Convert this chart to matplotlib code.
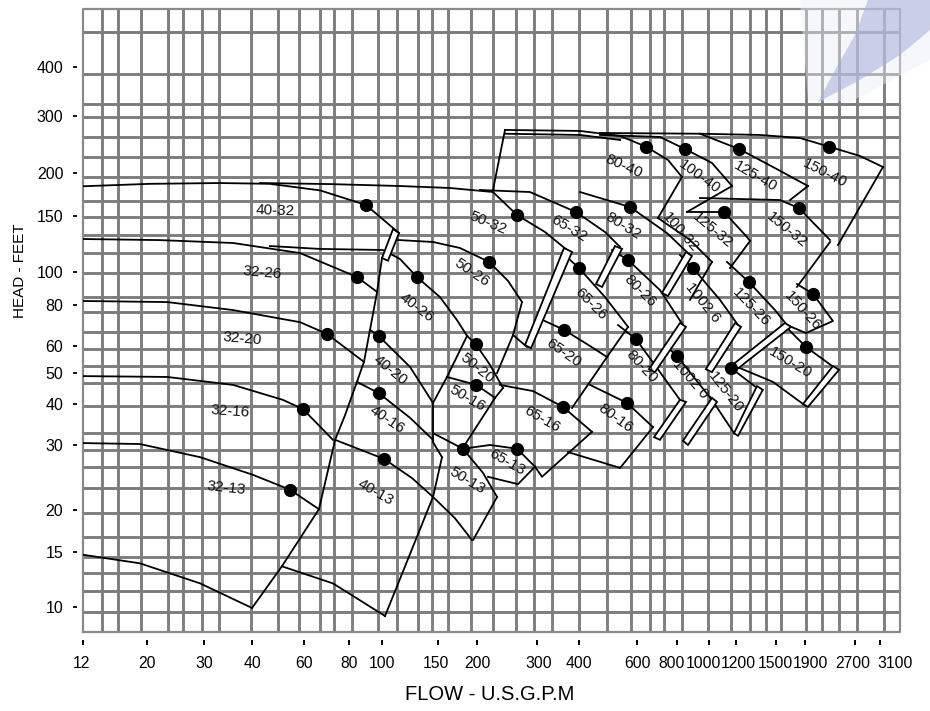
import numpy as np
import matplotlib
matplotlib.use("Agg")
import matplotlib.pyplot as plt
from matplotlib.patches import Polygon
from matplotlib.transforms import ScaledTranslation

plt.rcParams['font.family'] = ['Liberation Sans', 'DejaVu Sans']

# ---------------- axis tick values ----------------
X_TICKS = [12, 20, 30, 40, 60, 80, 100, 150, 200, 300, 400, 600, 800, 1000,
           1200, 1500, 1900, 2700, 3100]
Y_TICKS = [10, 15, 20, 30, 40, 50, 60, 80, 100, 150, 200, 300, 400]

# layout of the (irregular) printed scales: axes-fraction of each tick
X_TICK_FRAC = [0.0, .0783, .1481, .2069, .2705, .3256, .366, .4345, .4823, .5557,
               .6071, .6781, .727, .7662, .7993, .8482, .8837, .9449, .9755]
Y_TICK_FRAC = [.0401, .1284, .1958, .3002, .366, .4157, .4591, .5249, .5778, .6677,
               .7368, .8283, .9069]
# small horizontal nudges (pixels) of the printed flow labels
X_LABEL_NUDGE = [-2, 0, 0, 0, 0, 0, 0, -2, 0, 2, 0, 0, -5, -6, 2, -1, 5, -2, 15]

# background grid (axes fractions)
GRID_X = [.0233, .0428, .071, .104, .1224, .1457, .1665, .2056, .2387, .2644, .2901,
          .3072, .3293, .3611, .3843, .41, .4272, .4468, .4749, .5018, .53, .552, .574,
          .6071, .6414, .6707, .694, .7111, .7332, .765, .7931, .8164, .836, .8543,
          .885, .9045, .9253, .9474, .9804]
GRID_Y = [.9631, .8957, .8475, .8266, .7945, .7624, .7303, .6918, .6661, .6372,
          .6083, .5762, .5377, .5136, .4815, .4543, .427, .3997, .3628, .3194, .2921,
          .2648, .2311, .191, .1525, .1204, .0947, .0658, .0321]

# ---------------- performance-field lines (flow USGPM, head ft) ----------------
LINES_32 = [
    [(12, 183), (20.4, 186), (33, 187), (46, 186), (66.5, 178), (89.7, 161.5), (113.1, 132.6)],
    [(12, 127), (21.9, 126), (35.7, 123.4), (58.2, 114.7), (84.4, 96.7), (96.7, 87.4)],
    [(12, 82.2), (23.1, 81.6), (35.7, 77.2), (58.2, 70.9), (69.5, 65.3), (88.5, 53.9)],
    [(12, 48.9), (23.1, 48.6), (35.7, 45.9), (50.9, 41.2), (59.5, 38.6), (72.2, 31.1)],
    [(12, 30.4), (18.9, 30.2), (29.2, 27.8), (40.3, 24.9), (53.8, 22.7), (66, 20.1)],
    [(12, 14.7), (18.9, 13.8), (29.2, 11.9), (40, 9.93)],
    [(100, 110.7), (96.7, 87.4), (92.2, 67.2), (88.5, 53.9), (84.4, 46.9), (78, 37),
     (73.2, 31.1), (66, 20.1), (50.5, 13.5), (40, 9.93)],
]
LINES_40 = [
    [(46, 120.7), (66.5, 118.2), (100.7, 117.3), (113.9, 109.9), (128.8, 96.7),
     (152.2, 84.4), (172.6, 71.9), (185.8, 64.4)],
    [(185.8, 64.4), (160.3, 48.6), (144.7, 40.3)],
    [(92.2, 67.2), (97.7, 64.4), (122.5, 52.1), (144.7, 40.3)],
    [(84.4, 46.9), (97.7, 43.3), (122.5, 36.3), (144.7, 31.1)],
    [(144.7, 40.3), (144.7, 30.6), (154.5, 27.8)],
    [(73.2, 31.1), (101.5, 27.5), (124.3, 24.4), (144.7, 21.7), (170, 18.9), (192.5, 16.3)],
    [(154.5, 27.8), (144.7, 21.7), (102.2, 9.36)],
    [(50.5, 13.5), (72.2, 11.9), (102.2, 9.36)],
]
LINES_50 = [
    [(42.6, 187), (70.8, 185.7), (113.9, 183.3), (163.9, 180.9), (222.8, 176.1),
     (262, 151), (316.9, 133.6), (368.4, 117.3)],
    [(112.3, 126.1), (144.7, 124.3), (176.4, 119), (216.9, 107.6), (246.6, 94.2), (271.1, 81.6)],
    [(271.1, 81.6), (255.1, 64.8), (229, 50)],
    [(255.1, 64.8), (280.4, 59.6)],
    [(185.8, 64.4), (198, 60.8), (218.4, 52.8), (238.4, 44.9)],
    [(160.3, 48.6), (199, 45.9), (225.9, 41.8)],
    [(238.4, 44.9), (225.9, 41.8), (180.3, 29.5)],
    [(144.7, 32.6), (180.3, 29.3), (208.3, 25.2), (229, 21.7)],
    [(229, 21.7), (194.4, 16.3)],
]
LINES_65 = [
    [(204.1, 178.5), (286, 176.1), (391.9, 154.1), (479.7, 133.6), (533.2, 119.9)],
    [(370.9, 110.7), (400, 102.9), (479.7, 84.4), (563.7, 68.6)],
    [(563.7, 68.6), (486.4, 55.7), (381.3, 38.9)],
    [(312.6, 71.9), (360.9, 67.2), (432, 60), (486.4, 55.7)],
    [(233.6, 45.9), (292, 43.9), (358.3, 39.2), (438, 32.9)],
    [(438, 32.9), (310.4, 24.6), (296, 26.2)],
    [(180.3, 29.3), (218.4, 30), (262, 29.3), (296, 26.2)],
    [(296, 26.2), (263.8, 23.5), (215.4, 24.6)],
]
LINES_80 = [
    [(241.6, 271.6), (402.8, 269.7), (533.2, 260.2), (640.1, 241.2), (749.9, 219.4), (828.4, 194.7)],
    [(241.6, 264.4), (402.8, 262.1), (533.2, 252.9)],
    [(222.8, 178.5), (241.6, 271.6)],
    [(828.4, 194.7), (697.9, 147.9)],
    [(402.8, 176.1), (571.7, 159.3), (744.5, 132.6), (875.9, 113.1)],
    [(503.7, 117.3), (563.7, 109.1), (707.9, 88.5), (834.2, 69.5)],
    [(525.4, 69.5), (595.7, 63), (707.9, 50.3), (816.9, 41.2)],
    [(432, 45.9), (559.8, 40.3), (673.2, 34.0)],
    [(673.2, 34.0), (533.2, 26.0)],
    [(370.9, 28.7), (533.2, 26.0)],
]
LINES_100 = [
    [(463.2, 262.1), (707.9, 258.4), (845.9, 237.2), (1020.5, 214.7), (1168, 183.3)],
    [(1168, 183.3), (857.8, 154.1)],
    [(697.9, 147.9), (875.9, 126.1), (1020.5, 107.6)],
    [(1020.5, 107.6), (875.9, 82.8)],
    [(816.9, 113.1), (894.4, 102.9), (1077.2, 82.8), (1213.4, 69.5)],
    [(733.8, 60.4), (800, 56.1), (939, 45.9), (1020.5, 41.2)],
]
LINES_125 = [
    [(463.2, 265.8), (939, 264.4), (1220, 237.2), (1475, 208.7), (1940.5, 183.3)],
    [(1940.5, 183.3), (1681.3, 166.9)],
    [(857.8, 154.1), (1106.6, 154.1), (1276, 128.8), (1297.5, 125.2)],
    [(1297.5, 125.2), (1152.3, 102.9)],
    [(1129.3, 107.6), (1290, 93.4), (1491.6, 77.2), (1640.8, 69.5)],
    [(1160.2, 51.7), (1349, 44.9)],
    [(1184, 32.6), (1006.8, 42.1)],
]
LINES_150 = [
    [(939, 264.4), (1371.9, 262.1), (1824, 256.5), (2249, 241.2), (2775.6, 225.7), (3151.8, 208.7)],
    [(3151.8, 208.7), (2396, 121.6)],
    [(939, 169.2), (1549.7, 166.9), (1809, 158.2), (2265, 126.1)],
    [(2265, 124.3), (1780, 90.4)],
    [(1780, 92.2), (2010, 86.2), (2313, 71.5), (1913.4, 65.7), (1640.8, 69.5)],
    [(1640.8, 68.1), (1913.4, 59.6), (2346, 51.7)],
    [(1900, 39.6), (1475, 46.9), (1191.9, 52.4)],
]
# narrow separating strips between neighbouring fields (closed outlines)
STRIPS = [
    [(108.3, 136.5), (113.1, 132.6), (104.4, 108.5), (100, 110.7)],
    [(360.9, 119), (381.3, 115.6), (288.1, 59.1), (276.6, 60.4)],
    [(514.5, 120.7), (540.5, 118.2), (469.8, 90.4), (450.5, 92.2)],
    [(851.8, 115.6), (888.2, 112.3), (749.9, 85.0), (718.2, 86.8)],
    [(816.9, 70.5), (851.8, 68.6), (682.9, 50.3), (654.1, 51.3)],
    [(816.9, 41.2), (851.8, 40.6), (707.9, 31.1), (678.1, 31.7)],
    [(1191.9, 70.5), (1233.9, 68.6), (1020.5, 50.3), (978.4, 51.3)],
    [(1020.5, 41.8), (1055.5, 40.6), (863.8, 30), (834.2, 30.9)],
    [(1614.2, 70.5), (1695, 68.6), (1206.7, 51.3), (1160.2, 52.4)],
    [(1349, 45.5), (1394, 44.3), (1213.4, 32.0), (1184, 32.6)],
    [(2313, 52.4), (2413, 51.1), (1940.5, 39.2), (1869.3, 40)],
]

# best-efficiency points
DOT_Q = [53.8, 59.5, 69.5, 84.4, 89.7, 128.8, 97.7, 97.7, 101.5, 262, 216.9, 198, 199,
         180.3, 262, 358.3, 360.9, 400, 391.9, 559.8, 595.7, 563.7, 571.7, 640.1, 800,
         894.4, 845.9, 1160.2, 1290.2, 1106.6, 1220.2, 1913.4, 2009.9, 1809, 2249]
DOT_H = [22.7, 38.6, 65.3, 96.7, 161.5, 96.7, 64.4, 43.3, 27.5, 151, 107.6, 60.8, 45.9,
         29.3, 29.3, 39.2, 67.2, 102.9, 154.1, 40.3, 63.0, 109.1, 159.3, 241.2, 56.1,
         102.9, 237.2, 51.7, 93.4, 154.1, 237.2, 59.6, 86.2, 158.2, 241.2]

# model labels
LABELS = ["40-32", "32-26", "32-20", "32-16", "32-13", "40-26", "40-20", "40-16", "40-13",
          "50-32", "50-26", "50-20", "50-16", "50-13", "65-32", "65-26", "65-20", "65-16",
          "65-13", "80-40", "80-32", "80-26", "80-20", "80-16", "100-40", "100-32",
          "1002 6", "1002 0", "125-40", "125-32", "125-26", "125-20", "150-40", "150-32",
          "150-26", "150-20"]
LABEL_Q = [47.8, 43.2, 37.7, 35.1, 34.2, 128.8, 106, 103.7, 95.4, 215.4, 192.5, 200, 185.8,
           185.8, 373.5, 435, 360.9, 310.4, 244.9, 548, 544.2, 613, 622, 518, 932.6, 822.6,
           959, 875.9, 1334.2, 1027.4, 1304.8, 1119, 2186.8, 1640.8, 1869.3, 1681.3]
LABEL_H = [155.1, 99.3, 63.0, 38.1, 22.9, 78.6, 51.0, 35.8, 22.4, 142.6, 99.3, 51.7, 41.8,
           24.0, 136.5, 80.5, 57.2, 36.0, 26.9, 210.2, 139.5, 87.9, 52.1, 36.3, 194.7, 133.6,
           81.1, 47.9, 196.0, 135.5, 78.6, 43.6, 200, 135.5, 76.7, 53.5]
LABEL_ROT = [-2, -5, -5, -4, -6, -37, -39, -34, -30, -23, -34, -39, -30, -31, -31, -45, -35,
             -30, -30, -24, -32, -45, -47, -36, -36, -49, -51, -49, -30, -40, -46, -52, -27,
             -39, -48, -31]


def make_scale(vals, frac):
    lv = np.log10(np.asarray(vals, float))
    p = np.asarray(frac, float)
    s0 = (p[1] - p[0]) / (lv[1] - lv[0])
    s1 = (p[-1] - p[-2]) / (lv[-1] - lv[-2])

    def fwd(x):
        lx = np.log10(np.clip(np.asarray(x, float), 1e-9, None))
        out = np.interp(lx, lv, p)
        out = np.where(lx < lv[0], p[0] + (lx - lv[0]) * s0, out)
        out = np.where(lx > lv[-1], p[-1] + (lx - lv[-1]) * s1, out)
        return out

    def inv(y):
        y = np.asarray(y, float)
        lx = np.interp(y, p, lv)
        lx = np.where(y < p[0], lv[0] + (y - p[0]) / s0, lx)
        lx = np.where(y > p[-1], lv[-1] + (y - p[-1]) / s1, lx)
        return 10 ** lx
    return fwd, inv


fig = plt.figure(figsize=(9.3, 7.11), dpi=100)
ax = fig.add_axes([83 / 930, 79 / 711, 817 / 930, 623 / 711])

fx, ix = make_scale(X_TICKS, X_TICK_FRAC)
fy, iy = make_scale(Y_TICKS, Y_TICK_FRAC)
ax.set_xscale('function', functions=(fx, ix))
ax.set_yscale('function', functions=(fy, iy))
ax.set_xlim(12, float(ix(1.0)))
ax.set_ylim(float(iy(0.0)), float(iy(1.0)))

GRID_COLOR = '#7d7d7d'
for g in GRID_X:
    ax.plot([g, g], [0, 1], transform=ax.transAxes, color=GRID_COLOR, lw=2.1,
            zorder=0, solid_capstyle='butt')
for g in GRID_Y:
    ax.plot([0, 1], [g, g], transform=ax.transAxes, color=GRID_COLOR, lw=2.1,
            zorder=0, solid_capstyle='butt')
ax.plot([0, 1, 1, 0, 0], [0, 0, 1, 1, 0], transform=ax.transAxes, color='#8a8a8a',
        lw=1.6, zorder=0, clip_on=False)

for group in (LINES_32, LINES_40, LINES_50, LINES_65, LINES_80, LINES_100, LINES_125, LINES_150):
    for line in group:
        q, h = zip(*line)
        ax.plot(q, h, color='black', lw=1.3, zorder=3, solid_joinstyle='round')
for poly in STRIPS:
    ax.add_patch(Polygon(poly, closed=True, fill=True, facecolor='white',
                         edgecolor='black', lw=1.3, zorder=3))

ax.plot(DOT_Q, DOT_H, 'o', color='black', ms=8.5, zorder=5)

for t, q, h, r in zip(LABELS, LABEL_Q, LABEL_H, LABEL_ROT):
    ax.text(q, h, t, rotation=r, ha='center', va='center', fontsize=11,
            rotation_mode='anchor', zorder=6, color='#111111')

for s in ax.spines.values():
    s.set_visible(False)
ax.spines['left'].set_position(('outward', 4.3))
ax.spines['bottom'].set_position(('outward', 5.8))
ax.set_xticks(X_TICKS, labels=[''] * len(X_TICKS))
ax.set_yticks(Y_TICKS, labels=[str(v) for v in Y_TICKS])
ax.minorticks_off()
ax.tick_params(axis='x', length=3.6, width=1.4, color='black', top=False)
ax.tick_params(axis='y', length=2.9, width=1.3, color='black', pad=7, labelsize=11.5,
               right=False)

# flow labels printed under the ticks (with the small offsets of the original print)
for v, dx in zip(X_TICKS, X_LABEL_NUDGE):
    tr = ax.get_xaxis_transform() + ScaledTranslation(dx / 100, 0, fig.dpi_scale_trans)
    ax.text(v, -31 / 623, str(v), transform=tr, ha='center', va='center', fontsize=11.3,
            clip_on=False)

fig.text(490 / 930, 1 - 694 / 711, 'FLOW - U.S.G.P.M', ha='center', va='center', fontsize=14.5)
fig.text(20 / 930, 1 - 271 / 711, 'HEAD - FEET', rotation=90, ha='center', va='center',
         fontsize=11)

# faint watermark in the top-right corner
fig.patches.append(Polygon([(800 / 930, 1), (1, 1), (1, 1 - 60 / 711), (850 / 930, 1 - 102 / 711),
                            (808 / 930, 1 - 100 / 711)],
                           closed=True, transform=fig.transFigure, facecolor='#eceef6',
                           edgecolor='none', alpha=0.45, zorder=10))
fig.patches.append(Polygon([(868 / 930, 1), (1, 1), (1, 1 - 30 / 711), (900 / 930, 1 - 55 / 711),
                            (860 / 930, 1 - 80 / 711), (818 / 930, 1 - 102 / 711),
                            (835 / 930, 1 - 70 / 711), (855 / 930, 1 - 35 / 711)],
                           closed=True, transform=fig.transFigure, facecolor='#a7afd9',
                           edgecolor='none', alpha=0.55, zorder=10))

fig.savefig('out.png', dpi=100)
